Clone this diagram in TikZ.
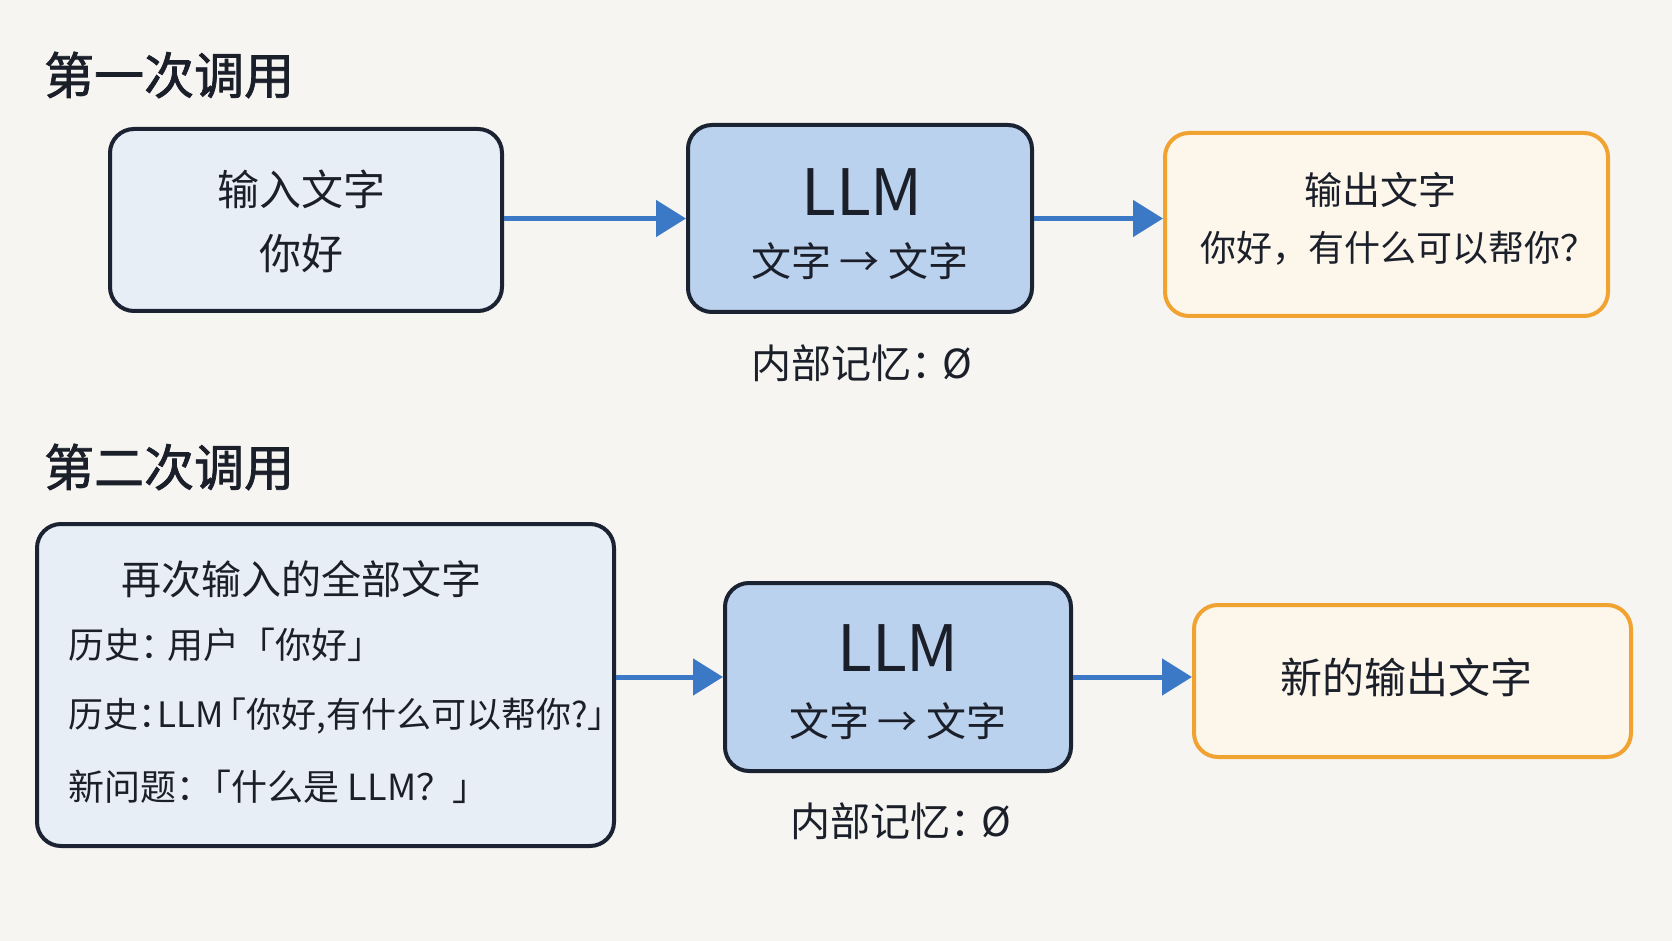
\documentclass[tikz,border=0pt]{standalone}
\usepackage{fontspec}
\setmainfont{Noto Sans CJK SC}
\newfontfamily\headfont{Noto Sans CJK SC}[FakeBold=1.5]
\usetikzlibrary{arrows.meta}

\definecolor{bgcol}{HTML}{F7F5F1}
\definecolor{inblue}{HTML}{E8EEF6}
\definecolor{llmblue}{HTML}{BBD2EE}
\definecolor{outcream}{HTML}{FDF6EB}
\definecolor{outorange}{HTML}{F1A332}
\definecolor{edgedark}{HTML}{1B2333}
\definecolor{arrowblue}{HTML}{3B78C6}
\definecolor{inkdark}{HTML}{1A1F2A}

% tight CJK punctuation
\newcommand{\tcolon}{：\hspace{-0.45em}}
\newcommand{\topen}{\hspace{-0.35em}「}

\tikzset{
  inbox/.style={draw=edgedark, fill=inblue, line width=2pt, rounded corners=12pt, inner sep=0pt},
  llmbox/.style={draw=edgedark, fill=llmblue, line width=2pt, rounded corners=12pt, inner sep=0pt},
  outbox/.style={draw=outorange, fill=outcream, line width=2pt, rounded corners=12pt, inner sep=0pt},
  flow/.style={draw=arrowblue, line width=2.5pt, -{Triangle[length=15pt,width=18pt]}},
  heading/.style={anchor=west, font=\headfont\fontsize{25}{30}\selectfont},
  boxtext/.style={font=\fontsize{21}{25}\selectfont},
  llmtext/.style={font=\fontsize{32}{36}\selectfont},
  listtext/.style={anchor=west, font=\fontsize{18}{22}\selectfont},
}

\begin{document}
\begin{tikzpicture}[x=0.5pt, y=-0.5pt, text=inkdark]
  % Background
  \fill[bgcol] (0,0) rectangle (1672,941);
  \useasboundingbox (0,0) rectangle (1672,941);

  % First call
  \node[heading] (title1) at (37,75) {第一次调用};

  \node[inbox, minimum width=196pt, minimum height=91pt] (in1) at (306,220) {};
  \node[boxtext] (in1a) at (301,189) {输入文字};
  \node[boxtext] (in1b) at (301,254) {你好};

  \node[llmbox, minimum width=172pt, minimum height=93.5pt] (llm1) at (860,218.5) {};
  \node[llmtext] (llm1a) at (862,192) {LLM};
  \node[boxtext, font=\fontsize{20}{24}\selectfont] (llm1b) at (860,261) {文字 → 文字};

  \node[outbox, minimum width=221.5pt, minimum height=91.5pt] (out1) at (1386.5,224.5) {};
  \node[boxtext, font=\fontsize{19}{23}\selectfont] (out1a) at (1380,190) {输出文字};
  \node[boxtext, font=\fontsize{18}{22}\selectfont] (out1b) at (1398,248) {你好，有什么可以帮你？};

  \node[boxtext, font=\fontsize{20}{24}\selectfont] (mem1) at (862,363) {内部记忆\tcolon\ Ø};

  \draw[flow] (in1.east |- llm1.west) -- (llm1.west);
  \draw[flow] (llm1.east) -- (llm1.east -| out1.west);

  % Second call
  \node[heading] (title2) at (37,467) {第二次调用};

  \node[inbox, minimum width=288.5pt, minimum height=161pt] (in2) at (325.5,685) {};
  \node[listtext, font=\fontsize{20}{24}\selectfont] (in2a) at (114,579) {再次输入的全部文字};
  \node[listtext] (in2b) at (61,645) {历史\tcolon\ 用户「你好」};
  \node[listtext, font=\fontsize{17.5}{21}\selectfont] (in2c) at (61,716) {历史\tcolon LLM\topen 你好,有什么可以帮你?」};
  \node[listtext] (in2d) at (61,787) {新问题\tcolon「什么是 LLM？」};

  \node[llmbox, minimum width=173pt, minimum height=94pt] (llm2) at (898,677) {};
  \node[llmtext] (llm2a) at (898,648) {LLM};
  \node[boxtext, font=\fontsize{20}{24}\selectfont] (llm2b) at (898,721) {文字 → 文字};

  \node[outbox, minimum width=218.5pt, minimum height=76pt] (out2) at (1412.5,681) {};
  \node[boxtext] (out2a) at (1406,677) {新的输出文字};

  \node[boxtext, font=\fontsize{20}{24}\selectfont] (mem2) at (901,821) {内部记忆\tcolon\ Ø};

  \draw[flow] (in2.east |- llm2.west) -- (llm2.west);
  \draw[flow] (llm2.east) -- (llm2.east -| out2.west);

\end{tikzpicture}
\end{document}
